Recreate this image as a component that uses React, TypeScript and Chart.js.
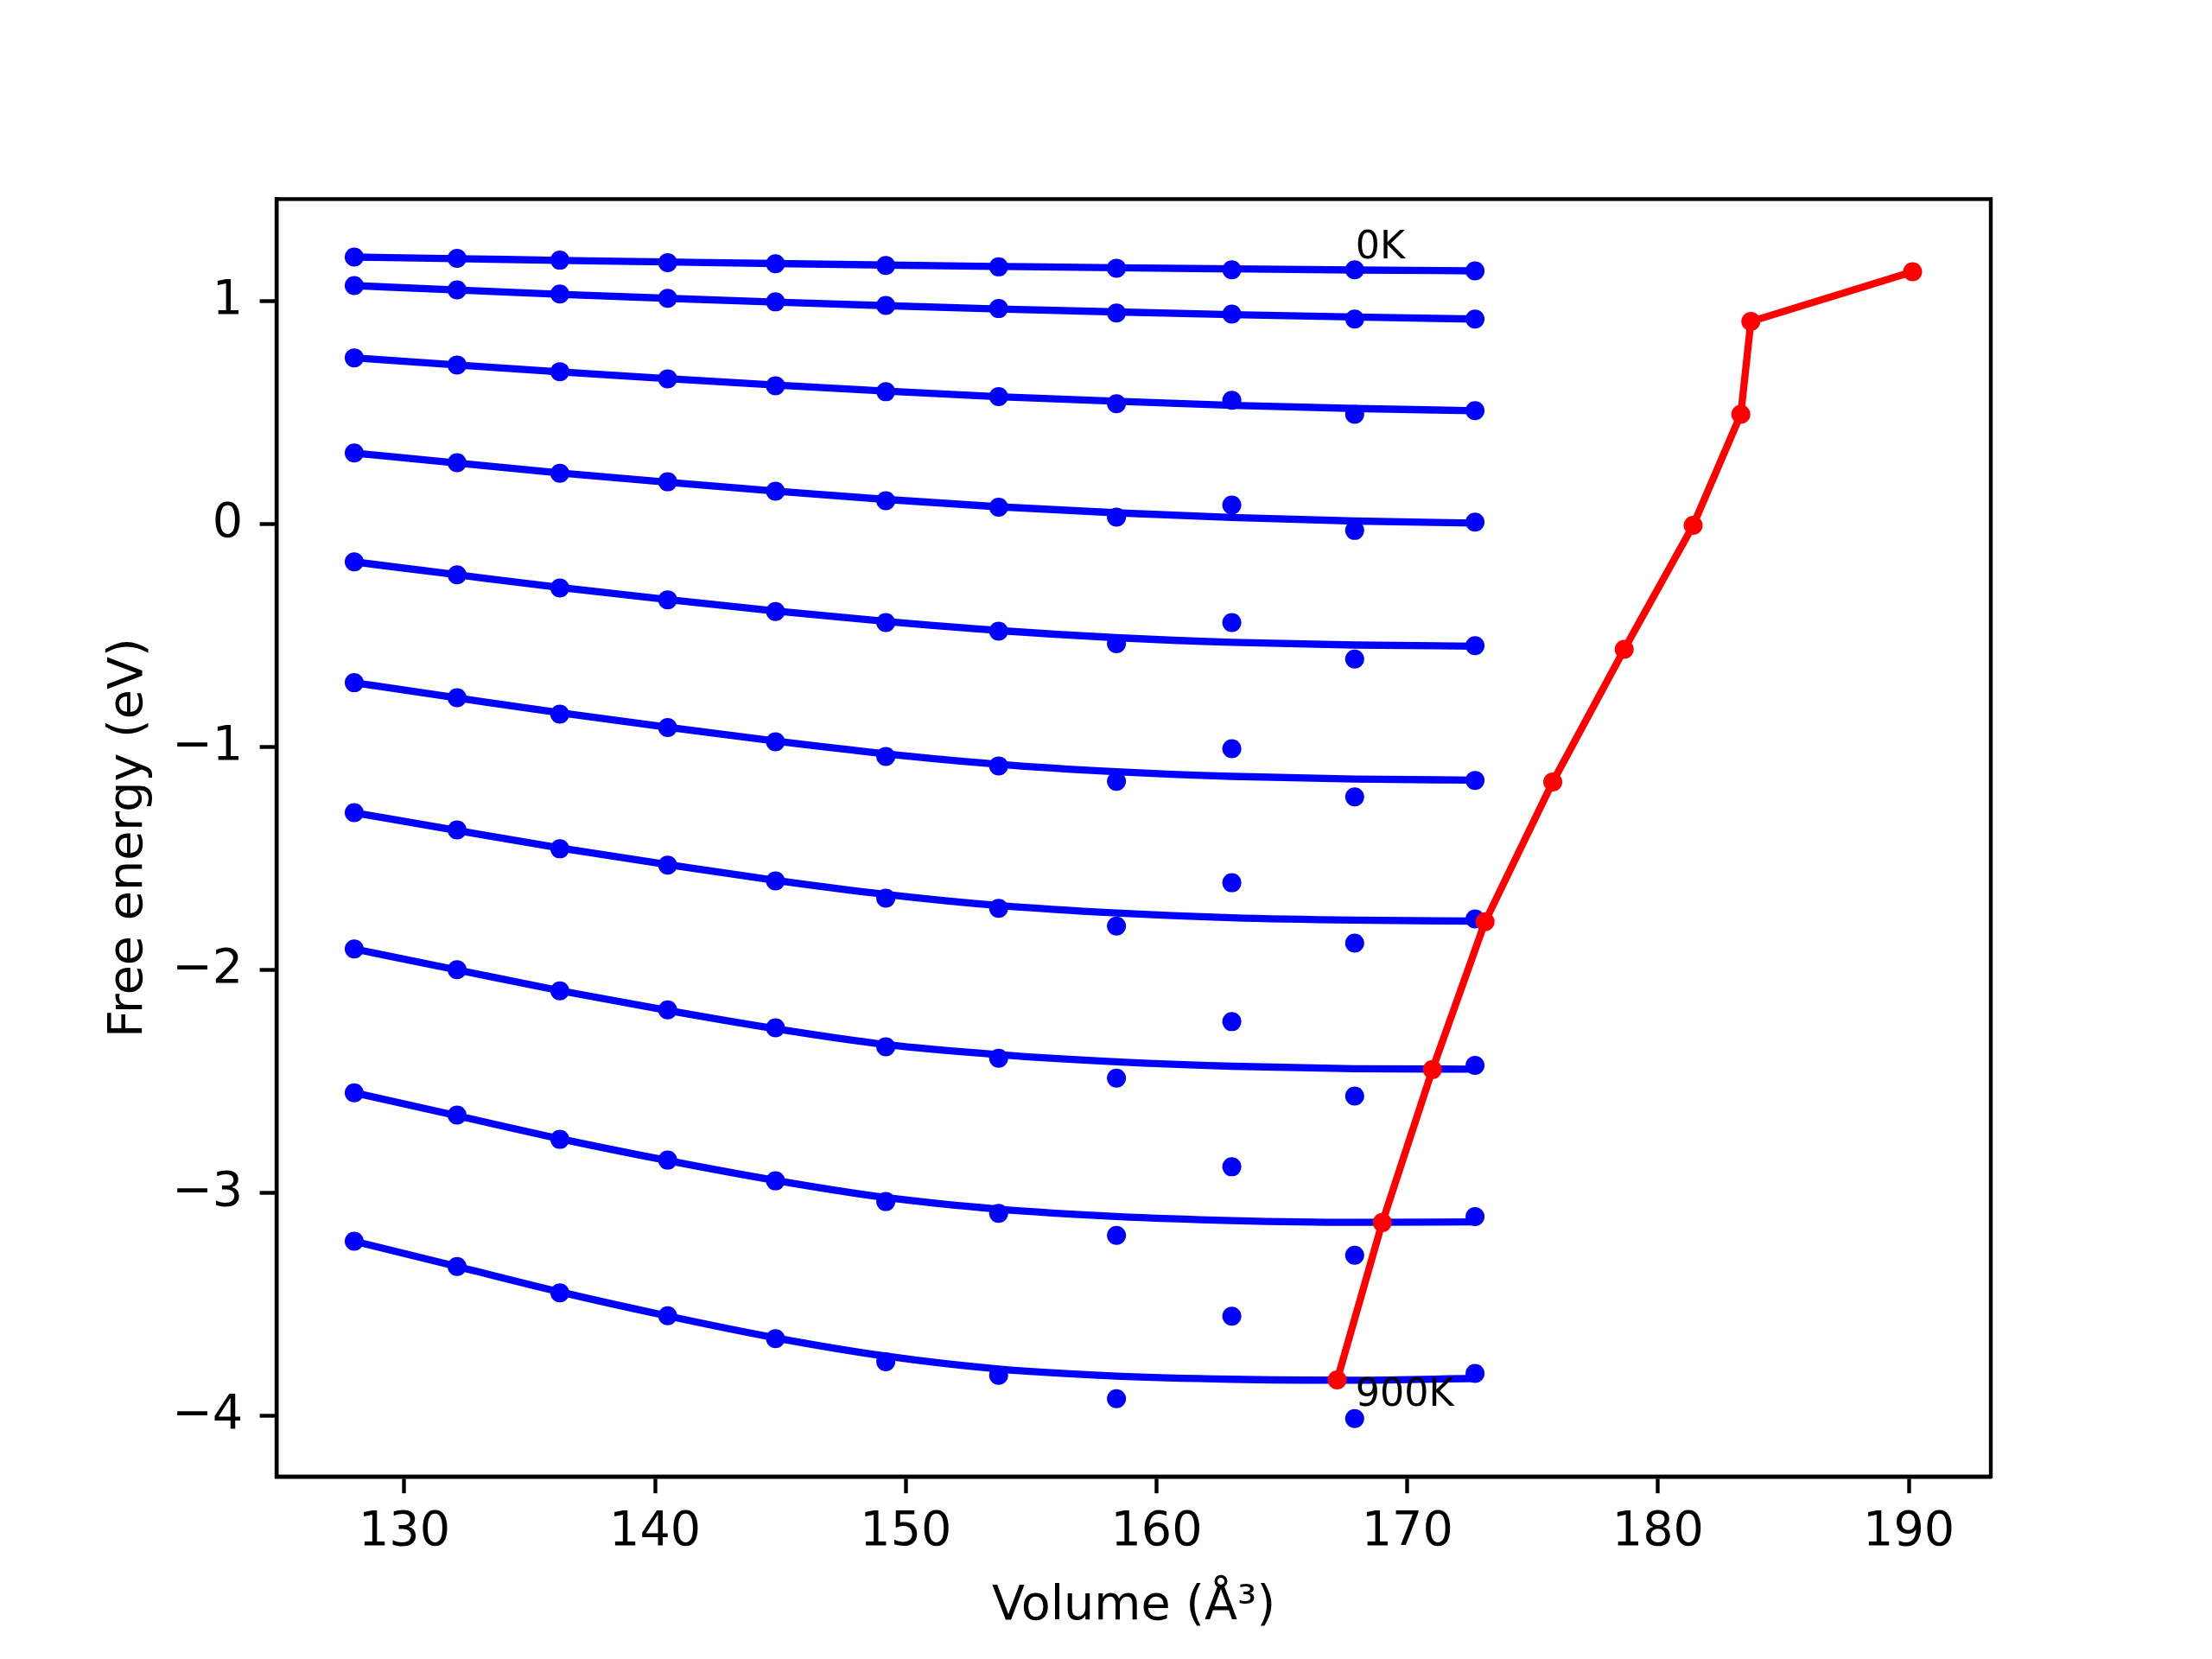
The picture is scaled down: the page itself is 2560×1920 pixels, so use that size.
import React, { useEffect, useRef } from 'react';
import { Chart, registerables } from 'chart.js';

Chart.register(...registerables);

// ---------- data ----------
const VOLUMES = [128.0, 132.1, 136.2, 140.5, 144.8, 149.2, 153.7, 158.4, 163.0, 167.9, 172.7];

const TEMPERATURES = ['0K', '100K', '200K', '300K', '400K', '500K', '600K', '700K', '800K', '900K'];

// computed free energies (scatter points)
const F_0K = [1.196, 1.190, 1.182, 1.171, 1.166, 1.158, 1.152, 1.146, 1.139, 1.139, 1.134];
const F_100K = [1.068, 1.049, 1.030, 1.011, 0.995, 0.979, 0.965, 0.945, 0.940, 0.918, 0.918];
const F_200K = [0.744, 0.712, 0.682, 0.650, 0.619, 0.592, 0.570, 0.538, 0.554, 0.491, 0.507];
const F_300K = [0.317, 0.274, 0.226, 0.188, 0.146, 0.103, 0.074, 0.030, 0.084, -0.030, 0.007];
const F_400K = [-0.171, -0.229, -0.288, -0.341, -0.394, -0.443, -0.482, -0.538, -0.443, -0.607, -0.547];
const F_500K = [-0.713, -0.780, -0.854, -0.914, -0.978, -1.044, -1.086, -1.155, -1.009, -1.225, -1.151];
const F_600K = [-1.296, -1.373, -1.458, -1.531, -1.602, -1.679, -1.725, -1.804, -1.610, -1.881, -1.772];
const F_700K = [-1.907, -2.000, -2.095, -2.180, -2.261, -2.346, -2.397, -2.486, -2.233, -2.567, -2.429];
const F_800K = [-2.552, -2.652, -2.761, -2.854, -2.947, -3.040, -3.093, -3.192, -2.884, -3.281, -3.107];
const F_900K = [-3.218, -3.331, -3.449, -3.552, -3.655, -3.758, -3.819, -3.924, -3.554, -4.013, -3.811];

// fitted curves, read at the same volumes
const FIT_0K = [1.196, 1.189, 1.181, 1.174, 1.167, 1.160, 1.154, 1.148, 1.143, 1.138, 1.134];
const FIT_100K = [1.068, 1.048, 1.029, 1.011, 0.994, 0.978, 0.963, 0.950, 0.938, 0.927, 0.918];
const FIT_200K = [0.744, 0.712, 0.681, 0.651, 0.622, 0.595, 0.570, 0.549, 0.531, 0.517, 0.507];
const FIT_300K = [0.317, 0.272, 0.228, 0.186, 0.146, 0.109, 0.076, 0.049, 0.028, 0.012, 0.003];
const FIT_400K = [-0.171, -0.229, -0.286, -0.340, -0.391, -0.438, -0.479, -0.511, -0.532, -0.544, -0.549];
const FIT_500K = [-0.713, -0.781, -0.848, -0.913, -0.975, -1.032, -1.079, -1.112, -1.133, -1.145, -1.150];
const FIT_600K = [-1.296, -1.376, -1.454, -1.529, -1.599, -1.662, -1.712, -1.746, -1.767, -1.778, -1.782];
const FIT_700K = [-1.907, -2.001, -2.094, -2.183, -2.265, -2.336, -2.381, -2.413, -2.433, -2.444, -2.446];
const FIT_800K = [-2.552, -2.655, -2.758, -2.856, -2.945, -3.022, -3.074, -3.107, -3.125, -3.133, -3.131];
const FIT_900K = [-3.218, -3.331, -3.445, -3.553, -3.651, -3.733, -3.791, -3.823, -3.837, -3.841, -3.833];

// minimum of each fitted curve (red path), 0K .. 900K
const MIN_VOLUME = [190.15, 183.7, 183.3, 181.4, 178.65, 175.8, 173.1, 171.0, 169.0, 167.2];
const MIN_ENERGY = [1.130, 0.907, 0.491, -0.007, -0.563, -1.158, -1.785, -2.448, -3.134, -3.840];

const POINT_SERIES = [F_0K, F_100K, F_200K, F_300K, F_400K, F_500K, F_600K, F_700K, F_800K, F_900K];
const FIT_SERIES = [FIT_0K, FIT_100K, FIT_200K, FIT_300K, FIT_400K, FIT_500K, FIT_600K, FIT_700K, FIT_800K, FIT_900K];

const X_TICKS = [130, 140, 150, 160, 170, 180, 190];
const Y_TICKS = [-4, -3, -2, -1, 0, 1];

const ANNOT_TEXT = ['0K', '900K'];
const ANNOT_X = [167.93, 167.93];
const ANNOT_Y = [1.19, -3.956];

const X_LABEL = 'Volume (Å³)';
const Y_LABEL = 'Free energy (eV)';

// ---------- styling ----------
const W = 2560;
const H = 1920;
const FONT = 'DejaVu Sans';
const TICK_FONT = 55.6;
const ANNOT_FONT = 44.4;
const LW = 8.33;
const MR = 11;
const SPINE = 4.4;
const TICK_LEN = 19.4;
const BLUE = '#0000ff';
const RED = '#ff0000';

const fmt = (v: number) => (v < 0 ? '\u2212' + Math.abs(v) : String(v));

const framePlugin = {
  id: 'frameAndText',
  afterDatasetsDraw(chart: any) {
    const { ctx, chartArea, scales } = chart;
    ctx.save();
    ctx.strokeStyle = '#000';
    ctx.lineWidth = SPINE;
    ctx.strokeRect(chartArea.left, chartArea.top, chartArea.right - chartArea.left, chartArea.bottom - chartArea.top);
    ctx.fillStyle = '#000';
    ctx.font = `${ANNOT_FONT}px "${FONT}"`;
    ctx.textAlign = 'left';
    ctx.textBaseline = 'alphabetic';
    ANNOT_TEXT.forEach((t, i) => {
      ctx.fillText(t, scales.x.getPixelForValue(ANNOT_X[i]), scales.y.getPixelForValue(ANNOT_Y[i]));
    });
    ctx.restore();
  },
};

export default function App() {
  const ref = useRef<HTMLCanvasElement>(null);

  useEffect(() => {
    const canvas = ref.current;
    if (!canvas) return;
    Chart.defaults.color = '#000';

    const datasets: any[] = [];
    datasets.push({
      label: 'minimum',
      data: MIN_VOLUME.map((v, i) => ({ x: v, y: MIN_ENERGY[i] })),
      showLine: true,
      borderColor: RED,
      backgroundColor: RED,
      borderWidth: LW,
      pointRadius: MR,
      pointHoverRadius: MR,
      pointBorderWidth: 0,
      pointBackgroundColor: RED,
      tension: 0,
    });
    TEMPERATURES.forEach((t, k) => {
      datasets.push({
        label: t + ' fit',
        data: VOLUMES.map((v, i) => ({ x: v, y: FIT_SERIES[k][i] })),
        showLine: true,
        borderColor: BLUE,
        borderWidth: LW,
        pointRadius: 0,
        pointHoverRadius: 0,
        cubicInterpolationMode: 'monotone',
        fill: false,
      });
      datasets.push({
        label: t,
        data: VOLUMES.map((v, i) => ({ x: v, y: POINT_SERIES[k][i] })),
        showLine: false,
        backgroundColor: BLUE,
        borderColor: BLUE,
        pointRadius: MR,
        pointHoverRadius: MR,
        pointBorderWidth: 0,
      });
    });

    const chart = new Chart(canvas, {
      type: 'scatter',
      data: { datasets },
      plugins: [framePlugin],
      options: {
        animation: false,
        responsive: false,
        maintainAspectRatio: false,
        devicePixelRatio: 1,
        events: [],
        layout: { padding: { left: 0, top: 230.4, right: 256, bottom: 0 } },
        plugins: { legend: { display: false }, tooltip: { enabled: false }, title: { display: false } },
        scales: {
          x: {
            type: 'linear',
            min: 124.9,
            max: 193.27,
            afterFit: (s: any) => { s.height = H - 1708.8; },
            afterBuildTicks: (s: any) => { s.ticks = X_TICKS.map((v) => ({ value: v })); },
            grid: { display: true, drawOnChartArea: false, drawTicks: true, tickLength: TICK_LEN, tickWidth: SPINE, tickColor: '#000' },
            border: { display: true, color: '#000', width: SPINE },
            ticks: {
              autoSkip: false,
              maxRotation: 0,
              padding: 12,
              color: '#000',
              font: { family: FONT, size: TICK_FONT },
              callback: (v: any) => fmt(Number(v)),
            },
            title: {
              display: true,
              text: X_LABEL,
              color: '#000',
              font: { family: FONT, size: TICK_FONT },
              padding: { top: 0, bottom: 27 },
            },
          },
          y: {
            type: 'linear',
            min: -4.273,
            max: 1.456,
            afterFit: (s: any) => { s.width = 320; },
            afterBuildTicks: (s: any) => { s.ticks = Y_TICKS.map((v) => ({ value: v })); },
            grid: { display: true, drawOnChartArea: false, drawTicks: true, tickLength: TICK_LEN, tickWidth: SPINE, tickColor: '#000' },
            border: { display: true, color: '#000', width: SPINE },
            ticks: {
              autoSkip: false,
              padding: 19.4,
              color: '#000',
              font: { family: FONT, size: TICK_FONT },
              callback: (v: any) => fmt(Number(v)),
            },
            title: {
              display: true,
              text: Y_LABEL,
              color: '#000',
              font: { family: FONT, size: TICK_FONT },
              padding: { top: 116.6, bottom: 0 },
            },
          },
        },
      } as any,
    });
    return () => chart.destroy();
  }, []);

  return (
    <div style={{ position: 'absolute', left: 0, top: 0, width: W, height: H, background: '#fff' }}>
      <canvas ref={ref} width={W} height={H} style={{ width: W, height: H, display: 'block' }} />
    </div>
  );
}
